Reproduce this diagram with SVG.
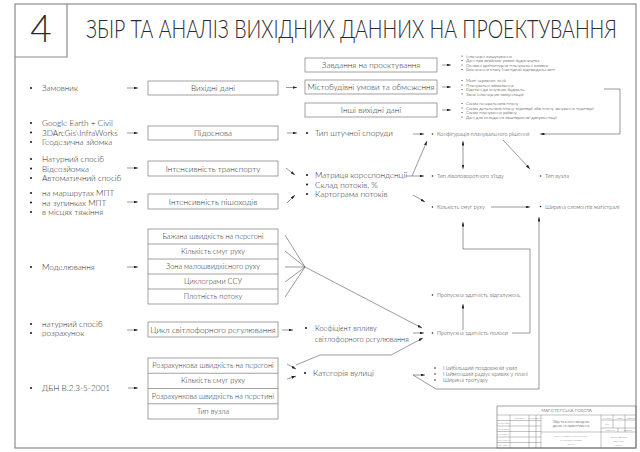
<svg xmlns="http://www.w3.org/2000/svg" width="640" height="452" viewBox="0 0 640 452">
<style>
text{font-family:Lato,"Liberation Sans","DejaVu Sans",sans-serif;font-weight:300;fill:#2a2a2a}
.box{fill:#fff;stroke:#7a7a7a;stroke-width:0.7}
.c{text-anchor:middle;dominant-baseline:central}
.m{dominant-baseline:central}
.f8{font-size:8.2px}
.f7{font-size:7.4px}
.f5{font-size:5.5px}
.f4{font-size:4.3px}
.con{fill:none;stroke:#555;stroke-width:0.6}
.arr{marker-end:url(#ah)}
.frame{fill:none;stroke:#8c8c8c;stroke-width:1.2}
.tb{fill:none;stroke:#666;stroke-width:0.4}
.t3{font-size:2.7px}
.t4{font-size:3.5px}
</style>
<defs>
<marker id="ah" viewBox="0 0 10 10" refX="10" refY="5" markerWidth="4.5" markerHeight="2.8" markerUnits="userSpaceOnUse" orient="auto-start-reverse" preserveAspectRatio="none"><path d="M0,0 L10,5 L0,10 z" fill="#222"/></marker>
</defs>
<rect width="640" height="452" fill="#fff"/>
<g id="frame">
<rect class="frame" x="15" y="4" width="621" height="444"/>
<path class="frame" d="M67,4 V57 H15"/>
<text x="41" y="42" font-size="37" text-anchor="middle">4</text>
<text transform="translate(86,38) scale(0.75,1)" x="0" y="0" font-size="26" textLength="708" lengthAdjust="spacingAndGlyphs">ЗБІР ТА АНАЛІЗ ВИХІДНИХ ДАННИХ НА ПРОЕКТУВАННЯ</text>
</g>

<g id="src-zamovnyk"><circle cx="31" cy="88" r="1.1" fill="#222"/><text class="m f8" x="42" y="88">Замовник</text></g>
<g id="src-pidosnova">
<circle cx="31" cy="123" r="1.1" fill="#222"/><text class="m f8" x="42" y="123">Google Earth + Civil</text>
<circle cx="31" cy="132.5" r="1.1" fill="#222"/><text class="m f8" x="42" y="132.5">3DArcGis\InfraWorks</text>
<circle cx="31" cy="142" r="1.1" fill="#222"/><text class="m f8" x="42" y="142">Геодезична зйомка</text>
</g>
<g id="src-transport">
<circle cx="31" cy="159" r="1.1" fill="#222"/><text class="m f8" x="42" y="159">Натурний спосіб</text>
<circle cx="31" cy="168.5" r="1.1" fill="#222"/><text class="m f8" x="42" y="168.5">Відеозйомка</text>
<circle cx="31" cy="178" r="1.1" fill="#222"/><text class="m f8" x="42" y="178">Автоматичний спосіб</text>
</g>
<g id="src-pishohody">
<circle cx="31" cy="193" r="1.1" fill="#222"/><text class="m f8" x="42" y="193">на маршрутах МПТ</text>
<circle cx="31" cy="202.5" r="1.1" fill="#222"/><text class="m f8" x="42" y="202.5">на зупинках МПТ</text>
<circle cx="31" cy="212" r="1.1" fill="#222"/><text class="m f8" x="42" y="212">в місцях тяжіння</text>
</g>
<g id="src-modeling"><circle cx="31" cy="267" r="1.1" fill="#222"/><text class="m f8" x="42" y="267">Моделювання</text></g>
<g id="src-cycle">
<circle cx="31" cy="324" r="1.1" fill="#222"/><text class="m f8" x="42" y="324">натурний спосіб</text>
<circle cx="31" cy="333" r="1.1" fill="#222"/><text class="m f8" x="42" y="333">розрахунок</text>
</g>
<g id="src-dbn"><circle cx="31" cy="388" r="1.1" fill="#222"/><text class="m f8" x="42" y="388">ДБН В.2.3-5-2001</text></g>

<g id="box-vykhidni"><rect class="box" x="148" y="81" width="130" height="14"/><text class="c f8" x="213" y="88">Вихідні дані</text></g>
<g id="box-pidosnova"><rect class="box" x="148" y="126" width="130" height="14"/><text class="c f8" x="213" y="133">Підоснова</text></g>
<g id="box-int-transport"><rect class="box" x="148" y="161" width="130" height="15"/><text class="c f8" x="213" y="168.5">Інтенсивність транспорту</text></g>
<g id="box-int-pishohody"><rect class="box" x="148" y="194" width="130" height="15"/><text class="c f8" x="213" y="201.5">Інтенсивність пішоходів</text></g>
<g id="box-model-stack">
<rect class="box" x="148" y="229" width="130" height="75"/>
<path class="box" d="M148,244H278M148,259H278M148,274H278M148,289H278"/>
<text class="c f7" x="213" y="236.5">Бажана швидкість на перегоні</text>
<text class="c f7" x="213" y="251.5">Кількість смуг руху</text>
<text class="c f7" x="213" y="266.5">Зона малошвидкісного руху</text>
<text class="c f7" x="213" y="281.5">Циклограми ССУ</text>
<text class="c f7" x="213" y="296.5">Плотність потоку</text>
</g>
<g id="box-cycle"><rect class="box" x="148" y="322" width="130" height="15"/><text class="c f8" x="213" y="329.5">Цикл світлофорного регулювання</text></g>
<g id="box-dbn-stack">
<rect class="box" x="148" y="358" width="130" height="61"/>
<path class="box" d="M148,373.25H278M148,388.5H278M148,403.75H278"/>
<text class="c f7" x="213" y="365.6">Розрахункова швидкість на перегоні</text>
<text class="c f7" x="213" y="380.9">Кількість смуг руху</text>
<text class="c f7" x="213" y="396.1">Розрахункова швидкість на перетині</text>
<text class="c f7" x="213" y="411.4">Тип вузла</text>
</g>

<g id="box-zavdannia"><rect class="box" x="305" y="58" width="132" height="14"/><text class="c f8" x="371" y="65">Завдання на проектування</text></g>
<g id="box-mistobud"><rect class="box" x="305" y="80" width="132" height="14"/><text class="c f8" x="371" y="87">Містобудівні умови та обмеження</text></g>
<g id="box-inshi"><rect class="box" x="305" y="103" width="132" height="14"/><text class="c f8" x="371" y="110">Інші вихідні дані</text></g>

<g id="list-zavdannia">
<circle cx="462" cy="56" r="0.6" fill="#222"/><text class="m f4" x="466" y="56">Інженерні вишукування</text>
<circle cx="462" cy="60.5" r="0.6" fill="#222"/><text class="m f4" x="466" y="60.5">Дані про особливі умови будівництва</text>
<circle cx="462" cy="65" r="0.6" fill="#222"/><text class="m f4" x="466" y="65">Основні архітектурно-планувальні вимоги</text>
<circle cx="462" cy="69.5" r="0.6" fill="#222"/><text class="m f4" x="466" y="69.5">Визначення класу (наслідків) відповідальності</text>
</g>
<g id="list-mistobud">
<circle cx="462" cy="80.5" r="0.6" fill="#222"/><text class="m f4" x="466" y="80.5">Межі червоних ліній</text>
<circle cx="462" cy="85" r="0.6" fill="#222"/><text class="m f4" x="466" y="85">Планувальні обмеження</text>
<circle cx="462" cy="89.5" r="0.6" fill="#222"/><text class="m f4" x="466" y="89.5">Відстані до існуючих будівель</text>
<circle cx="462" cy="94" r="0.6" fill="#222"/><text class="m f4" x="466" y="94">Зони інженерних комунікацій</text>
</g>
<g id="list-inshi">
<circle cx="462" cy="103.5" r="0.6" fill="#222"/><text class="m f4" x="466" y="103.5">Схема генерального плану</text>
<circle cx="462" cy="108" r="0.6" fill="#222"/><text class="m f4" x="466" y="108">Схема детального плану території або плану зонування території</text>
<circle cx="462" cy="112.5" r="0.6" fill="#222"/><text class="m f4" x="466" y="112.5">Схема планування району</text>
<circle cx="462" cy="117" r="0.6" fill="#222"/><text class="m f4" x="466" y="117">Дані для складання кошторисної документації</text>
</g>

<g id="n-typ-sporudy"><circle cx="307" cy="133" r="1.1" fill="#222"/><text class="m f8" x="315" y="133">Тип штучної споруди</text></g>
<g id="n-matrytsia">
<circle cx="307" cy="175" r="1.1" fill="#222"/><text class="m f8" x="315" y="175">Матриця кореспонденції</text>
<circle cx="307" cy="184.5" r="1.1" fill="#222"/><text class="m f8" x="315" y="184.5">Склад потоків, %</text>
<circle cx="307" cy="194" r="1.1" fill="#222"/><text class="m f8" x="315" y="194">Картограма потоків</text>
</g>
<g id="n-koef"><circle cx="306" cy="328" r="1.1" fill="#222"/><text class="m f7" x="315" y="328">Коефіцієнт впливу</text><text class="m f7" x="315" y="339">світлофорного регулювання</text></g>
<g id="n-katehoriia"><circle cx="305" cy="373" r="1.1" fill="#222"/><text class="m f8" x="313" y="373">Категорія вулиці</text></g>

<g id="n-konfig"><circle cx="432.5" cy="134" r="0.8" fill="#222"/><text class="m f5" x="437" y="134">Конфігурація планувального рішення</text></g>
<g id="n-zizd"><circle cx="432.5" cy="176" r="0.8" fill="#222"/><text class="m f5" x="437" y="176">Тип лівоповоротного з'їзду</text></g>
<g id="n-smuhy"><circle cx="432.5" cy="207" r="0.8" fill="#222"/><text class="m f5" x="437" y="207">Кількість смуг руху</text></g>
<g id="n-vidhaluzhen"><circle cx="432.5" cy="295" r="0.8" fill="#222"/><text class="m f5" x="437" y="295">Пропускна здатність відгалужень</text></g>
<g id="n-polosy"><circle cx="432.5" cy="333" r="0.8" fill="#222"/><text class="m f5" x="437" y="333">Пропускна здатність полоси</text></g>
<g id="list-katehoriia">
<circle cx="435" cy="368" r="0.8" fill="#222"/><text class="m f5" x="443" y="368">Найбільший поздовжній ухил</text>
<circle cx="435" cy="374" r="0.8" fill="#222"/><text class="m f5" x="443" y="374">Найменший радіус кривих у плані</text>
<circle cx="435" cy="380" r="0.8" fill="#222"/><text class="m f5" x="443" y="380">Ширина тротуару</text>
</g>
<g id="n-vuzol"><circle cx="540.5" cy="176" r="0.8" fill="#222"/><text class="m f5" x="545" y="176">Тип вузла</text></g>
<g id="n-shyryna"><circle cx="540.5" cy="206.5" r="0.8" fill="#222"/><text class="m f5" x="545" y="206.5">Ширина елементів магістралі</text></g>

<g id="connectors">
<path class="con arr" d="M127,88H138"/>
<path class="con arr" d="M127,133H138"/>
<path class="con arr" d="M127,168H138"/>
<path class="con arr" d="M127,202H138"/>
<path class="con arr" d="M127,267H138"/>
<path class="con arr" d="M127,330H138"/>
<path class="con arr" d="M128,388H138"/>
<path class="con arr" d="M286,87.5H297"/>
<path class="con arr" d="M442,65H451"/>
<path class="con arr" d="M442,87H451"/>
<path class="con arr" d="M442,110H451"/>
<path class="con arr" d="M287,133H297"/>
<path class="con arr" d="M286,168L295,175"/>
<path class="con arr" d="M287,203L295,195"/>
<path class="con arr" d="M413,134H424"/>
<path class="con arr" d="M604,89H620V134H540"/>
<path class="con arr" d="M406,176H424"/>
<path class="con arr" d="M412,176L427,141"/>
<path class="con arr" d="M413,195L425,202"/>
<path class="con arr" d="M463,141V169" style="marker-start:url(#ah)"/>
<path class="con arr" d="M503,140L530,169"/>
<path class="con arr" d="M491,207H530"/>
<path class="con arr" d="M512,333H530V249H463V222"/>
<path class="con arr" d="M463,330V304"/>
<path class="con" d="M285,235L305,267M285,251L305,267M285,267L305,267M285,282L305,267M285,297L305,267"/>
<path class="con arr" d="M305,267L422,328"/>
<path class="con arr" d="M282,330H293"/>
<path class="con arr" d="M413,333H424"/>
<path class="con arr" d="M296,365L320,355H391L423,338"/>
<path class="con arr" d="M287,364L296,369"/>
<path class="con arr" d="M287,379L296,376"/>
<path class="con arr" d="M413,375H425"/>
<path class="con arr" d="M413,375L436,389H539V217"/>
</g>

<g id="title-block">
<rect class="tb" x="497" y="406" width="139" height="42" style="stroke-width:0.6"/>
<path class="tb" d="M497,415H636M541,415V448M601,415V448M510,415V448M529,415V448M536,415V448M497,420.5H541M497,426H541M497,431.5H541M497,437H541M497,442.5H541M541,432H636M601,420H636M601,428H636M613,415V428M625,415V432M618,428V432"/>
<text class="c" x="566.5" y="410.7" style="font-size:4.4px">МАГІСТЕРСЬКА РОБОТА</text>
<text class="c t3" x="519.5" y="417.8">Прізвище</text>
<text class="c t3" x="532.5" y="417.8">Підпис</text>
<text class="c t3" x="538.5" y="417.8">Дата</text>
<text class="m t3" x="497.8" y="423.3">Розробив</text>
<text class="m t3" x="497.8" y="428.8">Керівник</text>
<text class="m t3" x="497.8" y="434.3">Консульт.</text>
<text class="m t3" x="497.8" y="439.8">Рецензент</text>
<text class="m t3" x="497.8" y="445.3">Зав. каф.</text>
<text class="c t4" x="571" y="421.5">Збір та аналіз вихідних</text>
<text class="c t4" x="571" y="426">даних на проектування</text>
<text class="c t3" x="571" y="436">Реконструкція транспортної</text>
<text class="c t3" x="571" y="440">розв'язки в межах</text>
<text class="c t3" x="571" y="444">міста</text>
<text class="c t3" x="607" y="417.5">Стадія</text>
<text class="c t3" x="619" y="417.5">Аркуш</text>
<text class="c t3" x="630.5" y="417.5">Аркушів</text>
<text class="c t3" x="607" y="424">МР</text>
<text class="c t3" x="609.5" y="430">Аркуш 4</text>
<text class="c t3" x="627" y="430">Аркушів</text>
<text class="c t3" x="618.5" y="437">НУБіП України</text>
<text class="c t3" x="618.5" y="441">кафедра</text>
<text class="c t3" x="618.5" y="445">група</text>
</g>
</svg>
